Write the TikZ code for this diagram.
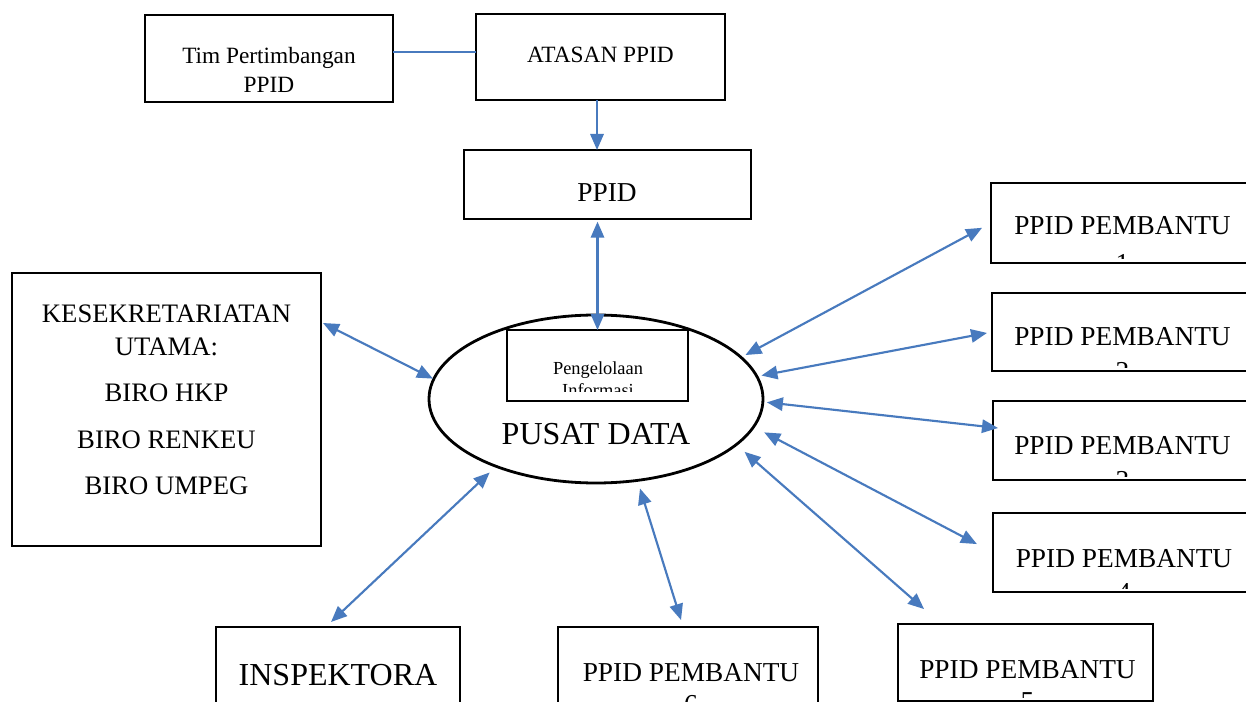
\documentclass[tikz,border=0pt]{standalone}
\usepackage{fontspec}
\setmainfont{Liberation Serif}
\usetikzlibrary{arrows.meta,calc,shapes.geometric}
\definecolor{linkblue}{RGB}{72,122,190}
\begin{document}
\begin{tikzpicture}[x=0.75pt,y=-0.75pt,
  box/.style={draw=black, line width=2.1pt, inner sep=0pt, outer sep=0pt, anchor=north west},
  lbl/.style={inner sep=0pt, outer sep=0pt, anchor=base},
  fsmall/.style={font=\fontsize{13.8}{16}\selectfont},
  ftop/.style={font=\fontsize{17.5}{21}\selectfont},
  fmid/.style={font=\fontsize{20}{24}\selectfont},
  funit/.style={font=\fontsize{20.5}{24}\selectfont},
  fbig/.style={font=\fontsize{24}{28}\selectfont},
  link/.style={draw=linkblue, line width=1.6pt},
  onearrow/.style={link, -{Triangle[length=12pt,width=10pt]}},
  twoarrow/.style={link, {Triangle[length=12pt,width=10pt]}-{Triangle[length=12pt,width=10pt]}},
]
\useasboundingbox (0,0) rectangle (1246,702);
\fill[white] (0,0) rectangle (1246,702);

% top row
\node[box, minimum width=186pt, minimum height=65.25pt] (tim) at (145,15) {};
\node[lbl, ftop] (timA) at (269,64) {Tim Pertimbangan};
\node[lbl, ftop] (timB) at (269,93) {PPID};
\node[box, minimum width=186.75pt, minimum height=64.5pt] (atasan) at (476,14) {};
\node[lbl, ftop] (atasanT) at (600.5,63) {ATASAN PPID};

% PPID
\node[box, minimum width=215.25pt, minimum height=51.75pt] (ppid) at (464,150) {};
\node[lbl, funit] (ppidT) at (607,202) {PPID};

% secretariat block
\node[box, minimum width=231.75pt, minimum height=204.75pt] (kes) at (12,273) {};
\node[lbl, fmid] (kesA) at (166.5,323) {KESEKRETARIATAN};
\node[lbl, fmid] (kesB) at (166.5,355) {UTAMA:};
\node[lbl, fmid] (kesC) at (166.5,402) {BIRO HKP};
\node[lbl, fmid] (kesD) at (166.5,448) {BIRO RENKEU};
\node[lbl, fmid] (kesE) at (166.5,494) {BIRO UMPEG};

% data centre
\node[ellipse, draw=black, line width=2.1pt, minimum width=250.5pt, minimum height=126pt,
      inner sep=0pt, outer sep=0pt] (pusat) at (596,399) {};
\node[lbl, fbig] (pusatT) at (596,444) {PUSAT DATA};
\node[box, fill=white, minimum width=135.75pt, minimum height=53.25pt] (peng) at (507,330) {};
\node[lbl, fsmall] (pengA) at (598,374) {Pengelolaan};
\begin{scope}
  \clip (peng.north west) rectangle ($(peng.south east)+(0,-10)$);
  \node[lbl, fsmall] (pengB) at (598,397) {Informasi};
\end{scope}

% assistant units
\node[box, minimum width=197.25pt, minimum height=60pt] (p1) at (991,183) {};
\node[box, minimum width=196.5pt, minimum height=58.5pt] (p2) at (992,293) {};
\node[box, minimum width=195.75pt, minimum height=59.25pt] (p3) at (993,401) {};
\node[box, minimum width=196.5pt, minimum height=59.25pt] (p4) at (993,513) {};
\node[box, minimum width=191.25pt, minimum height=57.75pt] (p5) at (898,624) {};
\node[box, minimum width=195pt, minimum height=60pt] (p6) at (558,627) {};
\node[box, minimum width=183pt, minimum height=60pt] (insp) at (216,627) {};

\node[lbl, funit] (p1T) at (1122.5,235) {PPID PEMBANTU};
\node[lbl, funit] (p2T) at (1122.5,345) {PPID PEMBANTU};
\node[lbl, funit] (p3T) at (1122.5,454) {PPID PEMBANTU};
\node[lbl, funit] (p4T) at (1124,567) {PPID PEMBANTU};
\node[lbl, funit] (p5T) at (1027.5,678) {PPID PEMBANTU};
\node[lbl, funit] (p6T) at (691,681) {PPID PEMBANTU};
\node[lbl, fbig] (inspT) at (338,685) {INSPEKTORA};

% unit numbers, cut off by the text area of each box
\begin{scope}
  \clip (p1.north west) rectangle ($(p1.south east)+(0,-4)$);
  \node[lbl, funit] (p1N) at (1122.5,272.5) {1};
\end{scope}
\begin{scope}
  \clip (p2.north west) rectangle ($(p2.south east)+(0,-4)$);
  \node[lbl, funit] (p2N) at (1122.5,380.5) {2};
\end{scope}
\begin{scope}
  \clip (p3.north west) rectangle ($(p3.south east)+(0,-4)$);
  \node[lbl, funit] (p3N) at (1122.5,489.5) {3};
\end{scope}
\begin{scope}
  \clip (p4.north west) rectangle ($(p4.south east)+(0,-4)$);
  \node[lbl, funit] (p4N) at (1124,601.5) {4};
\end{scope}
\begin{scope}
  \clip (p5.north west) rectangle ($(p5.south east)+(0,-4)$);
  \node[lbl, funit] (p5N) at (1027.5,710.5) {5};
\end{scope}
\begin{scope}
  \clip (p6.north west) rectangle ($(p6.south east)+(0,-4)$);
  \node[lbl, funit] (p6N) at (691,713.5) {6};
\end{scope}

% connectors
\draw[link, line width=0.9pt] ($(tim.east)+(0,-6.5)$) -- ($(tim.east -| atasan.west)+(0,-6.5)$);
\draw[onearrow] ($(atasan.south)+(-3.5,0)$) -- ($(atasan.south |- ppid.north)+(-3.5,0)$);
\draw[twoarrow, shorten <=2pt] (peng.north |- ppid.south) -- (peng.north);
\draw[twoarrow, shorten <=3.75pt, shorten >=7.6pt] (pusat.16) -- (p1.west);
\draw[twoarrow, shorten <=3.5pt, shorten >=3.8pt] (pusat.8) -- (p2.west);
\draw[twoarrow, shorten <=3pt] (pusat.-1) -- ($(p3.west)+(5,-12.5)$);
\draw[twoarrow, shorten <=9pt, shorten >=13.6pt] (pusat.-10) -- (p4.west);
\draw[twoarrow, shorten <=8.25pt, shorten >=17pt] (pusat.-18) -- ($(p5.north west)+(43.1,0)$);
\draw[twoarrow, shorten <=6.4pt, shorten >=5.5pt] (pusat.-63) -- ($(p6.north)+(-4.8,0)$);
\draw[twoarrow, shorten <=6.75pt, shorten >=5.5pt] (pusat.214) -- ($(insp.north)+(-12.3,0)$);
\draw[twoarrow, shorten <=0.75pt, shorten >=1.7pt] (pusat.173) -- ($(kes.north east)+(0,49)$);
\end{tikzpicture}
\end{document}
